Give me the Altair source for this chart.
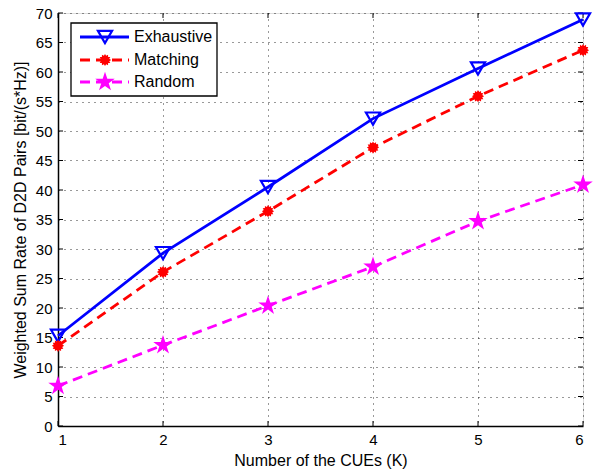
import math
import altair as alt
import pandas as pd

# ---- data ----
K = [1, 2, 3, 4, 5, 6]
exhaustive = [15.3, 29.3, 40.5, 52.1, 60.6, 68.9]
matching = [13.6, 26.1, 36.4, 47.2, 55.9, 63.7]
random_vals = [6.8, 13.7, 20.4, 27.0, 34.7, 40.9]
series_names = ["Exhaustive", "Matching", "Random"]
x_ticks = [1, 2, 3, 4, 5, 6]
y_ticks = list(range(0, 71, 5))

colors = ["#0000ff", "#ff0000", "#ff00ff"]

W, H = 525, 413
FONT = "Liberation Sans"

STAR = ("M0,-1L0.2245,-0.309L0.9511,-0.309L0.3633,0.118L0.5878,0.809L0,0.382"
        "L-0.5878,0.809L-0.3633,0.118L-0.9511,-0.309L-0.2245,-0.309Z")

# spiky "burst" marker (MATLAB asterisk drawn thick)
_pts = []
for j in range(24):
    r = 1.0 if j % 2 == 0 else 0.72
    a = math.pi * 2 * j / 24
    _pts.append(f"{r * math.cos(a):.3f},{r * math.sin(a):.3f}")
BURST = "M" + "L".join(_pts) + "Z"

series_vals = [exhaustive, matching, random_vals]

xs = alt.Scale(domain=[1, 6], nice=False, zero=False)
ys = alt.Scale(domain=[0, 70], nice=False, zero=True)

common = dict(ticks=False, grid=True, gridDash=[1, 5], gridColor="#000000", gridOpacity=0.8,
              labelFontSize=15, labelPadding=6, labelColor="#000000", labelFont=FONT,
              titleFontSize=16, titleFontWeight="normal", titleColor="#000000", titleFont=FONT,
              domain=True, domainColor="#000000", domainWidth=1.5, format="d")
x_axis = alt.Axis(values=x_ticks, title="Number of the CUEs (K)", titlePadding=5,
                  orient="bottom", **common)
y_axis = alt.Axis(values=y_ticks, title="Weighted Sum Rate of D2D Pairs [bit/(s*Hz)]",
                  titlePadding=7, orient="left", **common)

def X(field):
    return alt.X(field, scale=xs, axis=x_axis)

def Y(field):
    return alt.Y(field, scale=ys, axis=y_axis)

layers = []

def series_df(i):
    return pd.DataFrame({"K": K, "rate": series_vals[i]})

# series lines
line_dash = [None, [10, 6], [10, 6]]
for i in range(3):
    kw = dict(color=colors[i], strokeWidth=2.8)
    if line_dash[i] is not None:
        kw["strokeDash"] = line_dash[i]
    layers.append(alt.Chart(series_df(i)).mark_line(**kw).encode(x=X("K:Q"), y=Y("rate:Q")))

# inward ticks on all four sides
ytk = pd.DataFrame({"v": y_ticks})
xtk = pd.DataFrame({"v": x_ticks})
for x0, x1 in [(0, 5), (W, W - 5)]:
    layers.append(alt.Chart(ytk).mark_rule(color="black", strokeWidth=1).encode(
        y=Y("v:Q"), x=alt.value(x0), x2=alt.value(x1)))
for y0, y1 in [(H, H - 5), (0, 5)]:
    layers.append(alt.Chart(xtk).mark_rule(color="black", strokeWidth=1).encode(
        x=X("v:Q"), y=alt.value(y0), y2=alt.value(y1)))

markers = [dict(shape="triangle-down", filled=False, strokeWidth=2.2, size=200),
           dict(shape=BURST, filled=True, size=150),
           dict(shape=STAR, filled=True, size=420)]

# series markers
for i in range(3):
    layers.append(alt.Chart(series_df(i)).mark_point(color=colors[i], opacity=1, **markers[i]).encode(
        x=X("K:Q"), y=Y("rate:Q")))

# legend (manual: line + marker symbols)
leg_df = pd.DataFrame({"series": series_names})
layers.append(alt.Chart(leg_df.head(1)).mark_rect(fill="white", stroke="black", strokeWidth=1.3).encode(
    x=alt.value(13), x2=alt.value(159), y=alt.value(10), y2=alt.value(83)))
row_y = [24, 47, 69]
for i, name in enumerate(series_names):
    d = leg_df[leg_df.series == name]
    kw = dict(color=colors[i], strokeWidth=2.8)
    if line_dash[i] is not None:
        kw["strokeDash"] = line_dash[i]
    layers.append(alt.Chart(d).mark_rule(**kw).encode(
        x=alt.value(22), x2=alt.value(71), y=alt.value(row_y[i])))
    layers.append(alt.Chart(d).mark_point(color=colors[i], opacity=1, **markers[i]).encode(
        x=alt.value(47), y=alt.value(row_y[i])))
    layers.append(alt.Chart(d).mark_text(align="left", baseline="middle", fontSize=16,
                                         font=FONT, color="black").encode(
        x=alt.value(76), y=alt.value(row_y[i]), text="series:N"))

chart = alt.layer(*layers).properties(
    width=W, height=H,
    padding={"left": 58, "top": 13, "right": 16, "bottom": 44},
    autosize=alt.AutoSizeParams(type="none"),
).configure_view(
    stroke="black", strokeWidth=1.5
).configure(
    font=FONT, background="white"
)

chart.save("out.html", embed_options={"renderer": "svg", "actions": False})
